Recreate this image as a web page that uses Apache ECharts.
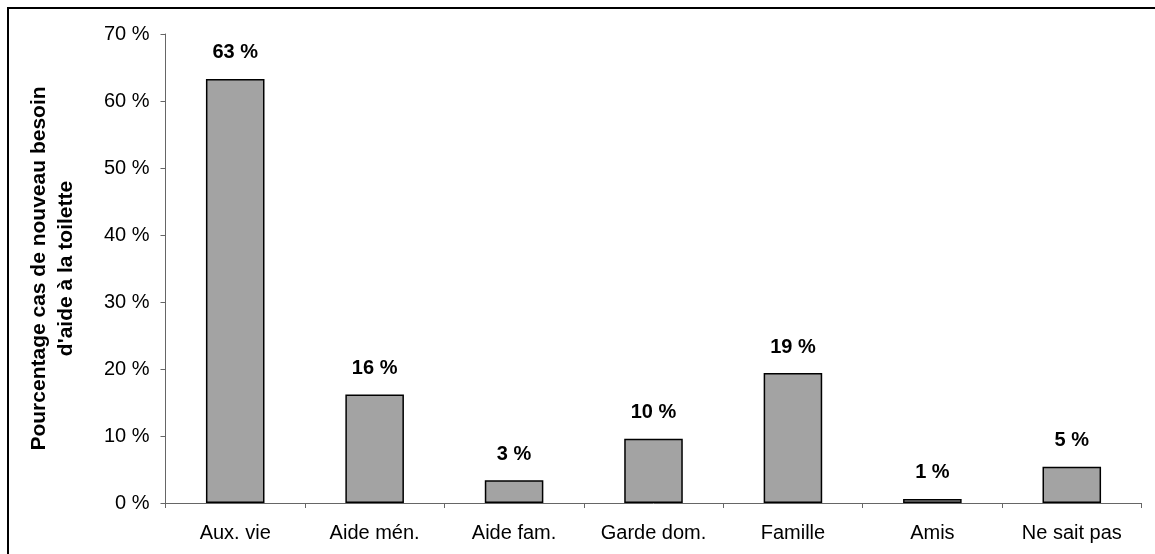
<!DOCTYPE html>
<html>
<head>
<meta charset="utf-8">
<style>
  html, body { margin: 0; padding: 0; background: #fff; }
  #chart { width: 1155px; height: 554px; }
</style>
<script src="https://cdn.jsdelivr.net/npm/echarts@6/dist/echarts.min.js"></script>
</head>
<body>
<div id="chart"></div>
<script>
// Qui intervient en cas de nouveau besoin d'aide à la toilette
const categories = ['Aux. vie', 'Aide mén.', 'Aide fam.', 'Garde dom.', 'Famille', 'Amis', 'Ne sait pas'];
const percentages = [63.3, 16.2, 3.4, 9.6, 19.4, 0.6, 5.4];
const yTicks = [0, 10, 20, 30, 40, 50, 60, 70];

const FONT = '"Liberation Sans", Arial, sans-serif';

const chart = echarts.init(document.getElementById('chart'));
chart.setOption({
  animation: false,
  backgroundColor: '#ffffff',
  graphic: [{
    type: 'rect',
    shape: { x: 8, y: 8, width: 1200, height: 600 },
    style: { fill: 'none', stroke: '#000', lineWidth: 2 },
    silent: true
  }],
  grid: { left: 165.5, right: 13.5, top: 34, bottom: 51 },
  xAxis: {
    type: 'category',
    data: categories,
    axisLine: { lineStyle: { color: '#666', width: 1 } },
    axisTick: { show: true, alignWithLabel: false, length: 5, lineStyle: { color: '#666' } },
    axisLabel: { color: '#000', fontFamily: FONT, fontSize: 20, margin: 20 }
  },
  yAxis: {
    type: 'value',
    min: yTicks[0],
    max: yTicks[yTicks.length - 1],
    interval: 10,
    name: "Pourcentage cas de nouveau besoin\nd'aide à la toilette",
    nameLocation: 'middle',
    nameGap: 86,
    nameTextStyle: { color: '#000', fontFamily: FONT, fontSize: 21, fontWeight: 'bold', lineHeight: 27 },
    axisLine: { show: true, lineStyle: { color: '#666', width: 1 } },
    axisTick: { show: true, length: 5, lineStyle: { color: '#666' } },
    splitLine: { show: false },
    axisLabel: { color: '#000', fontFamily: FONT, fontSize: 20, margin: 16, formatter: v => v + ' %' }
  },
  series: [{
    type: 'bar',
    data: percentages,
    barWidth: '42%',
    itemStyle: { color: '#a3a3a3', borderColor: '#000', borderWidth: 1.5 },
    label: {
      show: true,
      position: 'top',
      distance: 16,
      color: '#000',
      fontFamily: FONT,
      fontSize: 20,
      fontWeight: 'bold',
      formatter: p => Math.round(p.value) + ' %'
    }
  }]
});
</script>
</body>
</html>
